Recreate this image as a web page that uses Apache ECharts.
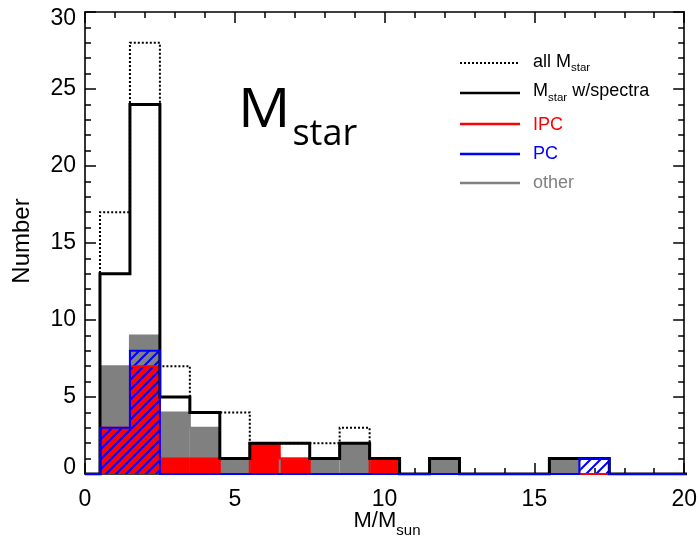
<!DOCTYPE html>
<html><head><meta charset="utf-8">
<script src="https://cdn.jsdelivr.net/npm/echarts@6/dist/echarts.min.js"></script>
<style>html,body{margin:0;padding:0;background:#fff}#c{width:700px;height:539px}</style>
</head><body><div id="c"></div>
<script>
// ---- data (histogram counts per 1 M_sun bin, bins centred on integers) ----
const binCenters = [1,2,3,4,5,6,7,8,9,10,11,12,13,14,15,16,17,18,19,20];
const allMstar    = [17,28,7,4,4,2,2,2,3,1,0,1,0,0,0,1,1,0,0,0];
const withSpectra = [13,24,5,4,1,2,2,1,2,1,0,1,0,0,0,1,1,0,0,0];
const otherCounts = [7,9,4,3,1,0,1,1,2,0,0,1,0,0,0,1,0,0,0,0];
const ipcCounts   = [3,7,1,1,0,2,1,0,0,1,0,0,0,0,0,0,0,0,0,0];
const pcCounts    = [3,8,0,0,0,0,0,0,0,0,0,0,0,0,0,0,1,0,0,0];
const xTickValues = [0,5,10,15,20];
const yTickValues = [0,5,10,15,20,25,30];
const legendLabels = ['all M', 'M', 'IPC', 'PC', 'other'];

const binWidth = 1;
const xMin = xTickValues[0], xMax = xTickValues[xTickValues.length-1];
const yMin = yTickValues[0], yMax = yTickValues[yTickValues.length-1];

const RED = '#ff0000', BLUE = '#0000ff', GRAY = '#808080';
const SANS = '"Liberation Sans", Arial, Helvetica, sans-serif';

// hatch pattern for PC
function hatchCanvas(){
  const s = 10, cv = document.createElement('canvas');
  cv.width = s; cv.height = s;
  const ctx = cv.getContext('2d');
  ctx.strokeStyle = BLUE; ctx.lineWidth = 2;
  ctx.beginPath();
  ctx.moveTo(-2, s+2); ctx.lineTo(s+2, -2);
  ctx.moveTo(-2, 2); ctx.lineTo(2, -2);
  ctx.moveTo(s-2, s+2); ctx.lineTo(s+2, s-2);
  ctx.stroke();
  return cv;
}
const hatch = {image: hatchCanvas(), repeat: 'repeat'};

function fillSeries(name, values, fill, z){
  return {
    type: 'custom', name, z, xAxisIndex: 0, yAxisIndex: 0, clip: true,
    data: binCenters.map((c,i)=>[c, values[i]]).filter(d=>d[1]>0),
    renderItem: (params, api) => {
      const c = api.value(0), v = api.value(1);
      const p0 = api.coord([c - binWidth/2, v]);
      const p1 = api.coord([c + binWidth/2, 0]);
      return {type:'rect', shape:{x:p0[0], y:p0[1], width:p1[0]-p0[0], height:p1[1]-p0[1]},
              style:{fill: fill, stroke: null}};
    }
  };
}
function stepData(values){
  const pts = [[xMin, 0], [binCenters[0]-binWidth/2, 0]];
  binCenters.forEach((c,i)=>{ pts.push([c-binWidth/2, values[i]]); pts.push([c+binWidth/2, values[i]]); });
  pts.push([binCenters[binCenters.length-1]+binWidth/2, 0]);
  return pts;
}
function stepSeries(name, values, color, width, type, z){
  return {type:'line', name, z, data: stepData(values), showSymbol:false, symbol:'none',
          clip:true, silent:true, lineStyle:{color, width, type, cap:'butt', join:'miter'}};
}

// text measuring helper for graphic texts
const mctx = document.createElement('canvas').getContext('2d');
function tw(txt, size, fam){ mctx.font = size + 'px ' + fam; return mctx.measureText(txt).width; }
function txt(x, y, s, size, color, fam, extra){
  return Object.assign({type:'text', x, y, silent:true,
    style:{text:s, fontSize:size, fill:color, fontFamily:fam, align:'left', verticalAlign:'middle'}}, extra||{});
}

const graphics = [];
// Big label M_star
const bigFam = '"Open Sans", sans-serif';
graphics.push(txt(238, 112, 'M', 54, '#000', bigFam, {scaleX:1.08}));
graphics.push(txt(238 + tw('M',54,bigFam)*1.08 + 2, 135, 'star', 36, '#000', bigFam));

// Legend
const legX0 = 460, legX1 = 520, legTx = 533, lf = 18, sf = 11.5;
const legRows = [63, 93, 124, 154, 183];
const legStyles = [
  {stroke:'#000', lineWidth:2, lineDash:[2,2]},
  {stroke:'#000', lineWidth:2.5},
  {stroke:RED, lineWidth:2.5},
  {stroke:BLUE, lineWidth:2.5},
  {stroke:GRAY, lineWidth:2.5}
];
legRows.forEach((y,i)=>{
  graphics.push({type:'line', silent:true, shape:{x1:legX0, y1:y, x2:legX1, y2:y}, style:legStyles[i]});
});
const mid = 0.3465;
// row 0: all M_star
graphics.push(txt(legTx, 68 - mid*lf, legendLabels[0], lf, '#000', SANS));
graphics.push(txt(legTx + tw(legendLabels[0], lf, SANS), 72 - mid*sf, 'star', sf, '#000', SANS));
// row 1: M_star w/spectra
graphics.push(txt(legTx, 97 - mid*lf, legendLabels[1], lf, '#000', SANS));
const w1 = tw(legendLabels[1], lf, SANS);
graphics.push(txt(legTx + w1, 102 - mid*sf, 'star', sf, '#000', SANS));
graphics.push(txt(legTx + w1 + tw('star', sf, SANS), 97 - mid*lf, ' w/spectra', lf, '#000', SANS));
graphics.push(txt(legTx, 131 - mid*lf, legendLabels[2], lf, RED, SANS));
graphics.push(txt(legTx, 160 - mid*lf, legendLabels[3], lf, BLUE, SANS));
graphics.push(txt(legTx, 189 - mid*lf, legendLabels[4], lf, GRAY, SANS));

// Axis titles
const tf = 22, tsf = 15;
const mmW = tw('M/M', tf, SANS), sunW = tw('sun', tsf, SANS);
const tx0 = 387 - (mmW + sunW)/2;
graphics.push(txt(tx0, 529 - mid*tf, 'M/M', tf, '#000', SANS));
graphics.push(txt(tx0 + mmW, 536 - mid*tsf, 'sun', tsf, '#000', SANS));
graphics.push(txt(22, 241, 'Number', 24, '#000', SANS,
  {rotation: Math.PI/2, style:{text:'Number', fontSize:24, fill:'#000', fontFamily:SANS, align:'center', verticalAlign:'middle'}}));

const tickCommon = {
  axisTick:{show:true, inside:true, length:11, lineStyle:{color:'#000', width:1.5}},
  minorTick:{show:true, splitNumber:5, length:6, lineStyle:{color:'#000', width:1.5}},
  splitLine:{show:false}, minorSplitLine:{show:false},
  axisLine:{show:true, onZero:false, lineStyle:{color:'#000', width:1.6}}
};
const xBase = Object.assign({type:'value', min:xMin, max:xMax, interval:xTickValues[1]-xTickValues[0]}, tickCommon);
const yBase = Object.assign({type:'value', min:yMin, max:yMax, interval:yTickValues[1]-yTickValues[0]}, tickCommon);

const option = {
  animation:false,
  backgroundColor:'#fff',
  grid:{left:85, right:14, top:12, bottom:65, containLabel:false},
  xAxis:[
    Object.assign({}, xBase, {position:'bottom',
      axisLabel:{show:true, fontSize:23, color:'#000', fontFamily:SANS, margin:14}}),
    Object.assign({}, xBase, {position:'top', axisLabel:{show:false}})
  ],
  yAxis:[
    Object.assign({}, yBase, {position:'left',
      axisLabel:{show:true, fontSize:23, color:'#000', fontFamily:SANS, margin:9,
        formatter: v => v === yMax ? '{mx|' + v + '}' : (v === yMin ? '{mn|' + v + '}' : String(v)),
        rich:{mx:{fontSize:23, color:'#000', fontFamily:SANS, padding:[14,0,0,0]},
              mn:{fontSize:23, color:'#000', fontFamily:SANS, padding:[0,0,12,0]}}}}),
    Object.assign({}, yBase, {position:'right', axisLabel:{show:false}})
  ],
  graphic: graphics,
  series:[
    fillSeries('other fill', otherCounts, GRAY, 1),
    fillSeries('IPC fill', ipcCounts, RED, 2),
    fillSeries('PC fill', pcCounts, hatch, 3),
    stepSeries('other', otherCounts, GRAY, 2, 'solid', 4),
    stepSeries('IPC', ipcCounts, RED, 2, 'solid', 5),
    stepSeries('all Mstar', allMstar, '#000', 2, [2,2], 6),
    stepSeries('Mstar w/spectra', withSpectra, '#000', 3, 'solid', 7),
    stepSeries('PC', pcCounts, BLUE, 2, 'solid', 8)
  ]
};
const chart = echarts.init(document.getElementById('c'), null, {renderer:'canvas'});
chart.setOption(option);
</script></body></html>
